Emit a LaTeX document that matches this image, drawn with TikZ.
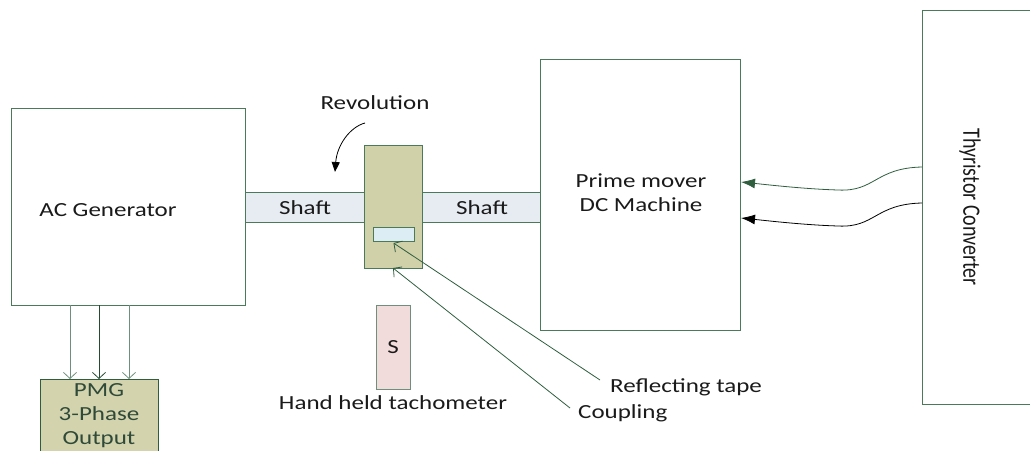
\documentclass[tikz,border=0pt]{standalone}
\usepackage{fontspec}
\setmainfont{Carlito}
\usetikzlibrary{arrows.meta,calc}
\definecolor{bord}{HTML}{4A7A5A}
\definecolor{dgreen}{HTML}{2E5E3E}
\definecolor{arrg}{HTML}{6E8F7C}
\definecolor{shaftfill}{HTML}{E6ECF2}
\definecolor{coupfill}{HTML}{D0D0A9}
\definecolor{tapefill}{HTML}{DCEEF3}
\definecolor{pmgfill}{HTML}{D3D3AE}
\definecolor{sfill}{HTML}{F2DCDB}
\definecolor{txt}{HTML}{1A1A1A}
\definecolor{pmgtxt}{HTML}{2F4A38}
\newcommand{\wtxt}[1]{\scalebox{1.25}[1]{#1}}
\begin{document}
\begin{tikzpicture}[x=1pt,y=-1pt,
  box/.style={draw=bord, line width=0.9pt, inner sep=0pt, outer sep=0pt, anchor=north west},
  lbl/.style={font=\fontsize{20}{24}\selectfont, text=txt, inner sep=0pt},
  barb/.style={-{Straight Barb[length=6pt,width=13pt]}, line width=0.8pt},
  thyarr/.style={line width=0.8pt}]
\useasboundingbox (0,0) rectangle (1030,450);
\begin{scope}
\clip (0,0) rectangle (1030,450);
% boxes
\node[box, minimum width=234pt, minimum height=197pt] (acg) at (11,108) {};
\node[box, fill=shaftfill, minimum width=120pt, minimum height=30pt] (shl) at (245,192) {};
\node[box, fill=shaftfill, minimum width=118pt, minimum height=30pt] (shr) at (422,192) {};
\node[box, fill=coupfill, minimum width=58pt, minimum height=123pt] (coup) at (364,145) {};
\node[box, fill=tapefill, line width=0.8pt, minimum width=41pt, minimum height=14pt] (tape) at (373,227) {};
\node[box, minimum width=200pt, minimum height=271pt] (prime) at (540,59) {};
\node[box, minimum width=130pt, minimum height=394pt] (thy) at (922,10) {};
\node[box, fill=pmgfill, draw=dgreen, minimum width=118pt, minimum height=90pt] (pmg) at (40,379) {};
\node[box, fill=sfill, draw=arrg, minimum width=34pt, minimum height=84pt] (sbox) at (376,305) {};
% texts
\node[lbl] (tacg) at (108,210) {\wtxt{AC Generator}};
\node[lbl] (tshl) at (305,208) {\wtxt{Shaft}};
\node[lbl] (tshr) at (482,208) {\wtxt{Shaft}};
\node[lbl, align=center] (tprime) at (641,195) {\wtxt{\begin{tabular}{@{}c@{}}Prime mover\\DC Machine\end{tabular}}};
\node[lbl, rotate=-90] (tthy) at (970,207) {\scalebox{1}[1.25]{Thyristor Converter}};
\node[lbl] (trev) at (375,103) {\wtxt{Revolution}};
\node[lbl] (ts) at (393,347) {\wtxt{S}};
\node[lbl] (ttach) at (393,403) {\wtxt{Hand held tachometer}};
\node[lbl, anchor=west] (trefl) at (610,387) {\wtxt{Reflecting tape}};
\node[lbl, anchor=west] (tcoup) at (578,413) {\wtxt{Coupling}};
\node[lbl, text=pmgtxt] (tpmg) at (99,416) {\wtxt{\begin{tabular}{@{}c@{}}PMG\\3-Phase\\Output\end{tabular}}};
% coordinates
\coordinate (a1) at ($(acg.south west)+(59,0)$);
\coordinate (a2) at ($(acg.south west)+(88,0)$);
\coordinate (a3) at ($(acg.south west)+(118,0)$);
\coordinate (revs) at ($(coup.north west)+(1,-22)$);
\coordinate (reve) at ($(shl.north east)+(-30,-20)$);
\coordinate (refs) at ($(trefl.west)+(-10,-7)$);
\coordinate (coups) at ($(tcoup.west)+(-8,-5)$);
\coordinate (t1s) at ($(thy.north west)+(0,157)$);
\coordinate (t2s) at ($(thy.north west)+(0,193)$);
\coordinate (t1e) at ($(prime.north east)+(1,123)$);
\coordinate (t2e) at ($(prime.north east)+(1,159)$);
% connectors
\draw[barb, draw=arrg] (a1) -- (a1 |- pmg.north);
\draw[barb, draw=dgreen!80!black] (a2) -- (a2 |- pmg.north);
\draw[barb, draw=arrg] (a3) -- (a3 |- pmg.north);
\draw[-{Triangle[length=10pt,width=8pt]}, line width=0.8pt, black] (revs) .. controls (350,127) and (337,145) .. (reve);
\draw[barb, draw=dgreen] (refs) -- ($(tape.south)+(0,2)$);
\draw[barb, draw=dgreen] (coups) -- (coup.south);
\draw[thyarr, draw=dgreen, -{Latex[length=14pt,width=10pt,fill=dgreen]}] (t1s) .. controls (875,168) and (875,192) .. (838,190) .. controls (805,189) and (770,185) .. (t1e);
\draw[thyarr, draw=black, -{Latex[length=14pt,width=10pt,fill=black]}] (t2s) .. controls (875,204) and (875,228) .. (838,226) .. controls (805,225) and (770,221) .. (t2e);
\end{scope}
\end{tikzpicture}
\end{document}
